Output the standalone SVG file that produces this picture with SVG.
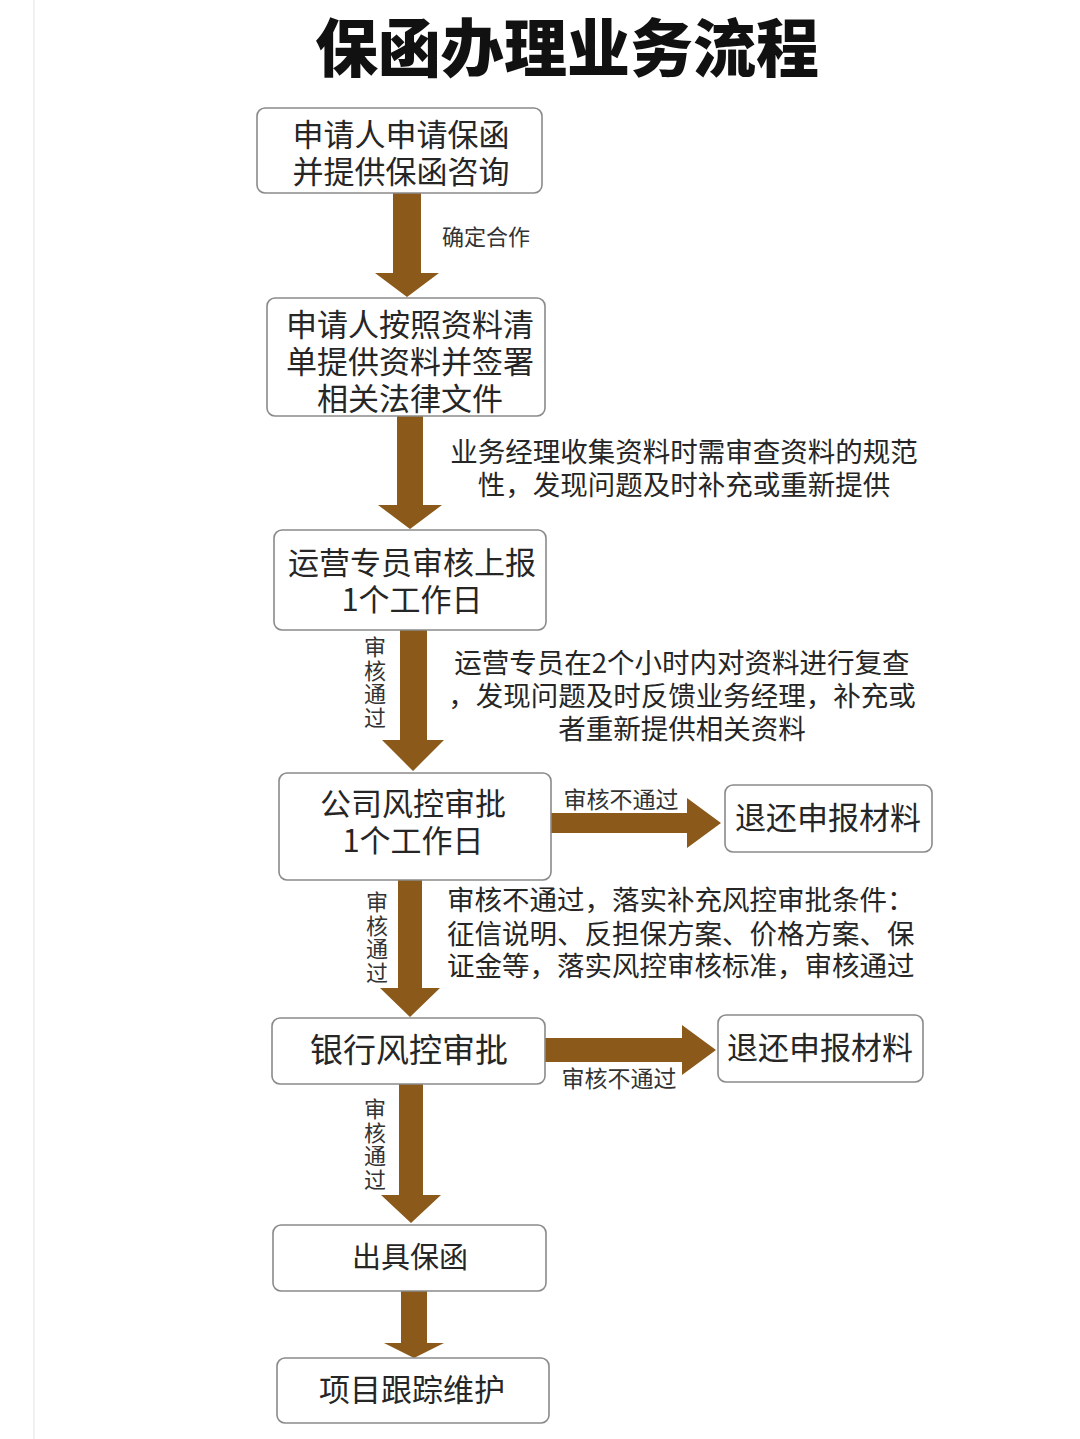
<svg xmlns="http://www.w3.org/2000/svg" width="1080" height="1439" viewBox="0 0 1080 1439">
<style>
.box{fill:#ffffff;stroke:#8a8a8a;stroke-width:1.6}
.nt{font-family:"Noto Sans CJK SC","Noto Sans",sans-serif;font-size:31px;fill:#262626;text-anchor:middle}
.lb{font-family:"Noto Sans CJK SC","Noto Sans",sans-serif;font-size:27.5px;fill:#262626}
.sm{font-family:"Noto Sans CJK SC","Noto Sans",sans-serif;font-size:22px;fill:#333333;text-anchor:middle}
.vt{font-family:"Noto Sans CJK SC","Noto Sans",sans-serif;font-size:22px;fill:#333333;text-anchor:middle;writing-mode:vertical-rl;letter-spacing:1.5px}
.arr{fill:#8b5a1b}
.title{font-family:"Noto Sans CJK SC","Noto Sans",sans-serif;font-size:63px;font-weight:900;fill:#111111;text-anchor:middle}
</style>
<rect x="0" y="0" width="1080" height="1439" fill="#ffffff"/>
<rect x="33" y="0" width="2" height="1439" fill="#f1f1f1"/>
<text class="title" x="567" y="71">保函办理业务流程</text>

<g id="connectors">
  <polygon class="arr" points="393,193 421,193 421,273 439,273 407,297 375,273 393,273"/>
  <text class="sm" x="486" y="245">确定合作</text>

  <polygon class="arr" points="397,416 423,416 423,505 442,505 410,529 378,505 397,505"/>
  <text class="lb" text-anchor="middle"><tspan x="684" y="462">业务经理收集资料时需审查资料的规范</tspan><tspan x="684" y="495">性，发现问题及时补充或重新提供</tspan></text>

  <polygon class="arr" points="400,630 427,630 427,740 444,740 413,771 382,740 400,740"/>
  <text class="vt" x="375" y="683">审核通过</text>
  <text class="lb" text-anchor="middle"><tspan x="682" y="673">运营专员在2个小时内对资料进行复查</tspan><tspan x="682" y="706">，发现问题及时反馈业务经理，补充或</tspan><tspan x="682" y="739">者重新提供相关资料</tspan></text>

  <polygon class="arr" points="551,813 687,813 687,798 721,823 687,848 687,833 551,833"/>
  <text class="sm" x="621" y="808" style="font-size:23px">审核不通过</text>

  <polygon class="arr" points="398,880 422,880 422,988 440,988 410,1017 380,988 398,988"/>
  <text class="vt" x="377" y="938">审核通过</text>
  <text class="lb"><tspan x="447" y="910">审核不通过，落实补充风控审批条件：</tspan><tspan x="447" y="944">征信说明、反担保方案、价格方案、保</tspan><tspan x="447" y="976">证金等，落实风控审核标准，审核通过</tspan></text>

  <polygon class="arr" points="545,1038 682,1038 682,1025 716,1050 682,1075 682,1062 545,1062"/>
  <text class="sm" x="619" y="1087" style="font-size:23px">审核不通过</text>

  <polygon class="arr" points="399,1084 423,1084 423,1195 441,1195 411,1223 381,1195 399,1195"/>
  <text class="vt" x="375" y="1145">审核通过</text>

  <polygon class="arr" points="401,1291 427,1291 427,1343 444,1343 414,1358 384,1343 401,1343"/>
</g>

<g id="node1">
  <rect class="box" x="257" y="108" width="285" height="85" rx="8"/>
  <text class="nt"><tspan x="401" y="146">申请人申请保函</tspan><tspan x="401" y="183">并提供保函咨询</tspan></text>
</g>
<g id="node2">
  <rect class="box" x="267" y="298" width="278" height="118" rx="8"/>
  <text class="nt"><tspan x="410" y="336">申请人按照资料清</tspan><tspan x="410" y="373">单提供资料并签署</tspan><tspan x="410" y="410">相关法律文件</tspan></text>
</g>
<g id="node3">
  <rect class="box" x="274" y="530" width="272" height="100" rx="8"/>
  <text class="nt"><tspan x="412" y="574">运营专员审核上报</tspan><tspan x="412" y="611">1个工作日</tspan></text>
</g>
<g id="node4">
  <rect class="box" x="279" y="773" width="272" height="107" rx="8"/>
  <text class="nt"><tspan x="413" y="815">公司风控审批</tspan><tspan x="413" y="852">1个工作日</tspan></text>
</g>
<g id="nodeReturn1">
  <rect class="box" x="725" y="785" width="207" height="67" rx="8"/>
  <text class="nt" x="828" y="829">退还申报材料</text>
</g>
<g id="node5">
  <rect class="box" x="272" y="1018" width="273" height="66" rx="8"/>
  <text class="nt" x="409" y="1062" style="font-size:33px">银行风控审批</text>
</g>
<g id="nodeReturn2">
  <rect class="box" x="718" y="1015" width="205" height="67" rx="8"/>
  <text class="nt" x="820" y="1059">退还申报材料</text>
</g>
<g id="node6">
  <rect class="box" x="273" y="1225" width="273" height="66" rx="8"/>
  <text class="nt" x="410" y="1268" style="font-size:29px">出具保函</text>
</g>
<g id="node7">
  <rect class="box" x="277" y="1358" width="272" height="65" rx="8"/>
  <text class="nt" x="412" y="1401">项目跟踪维护</text>
</g>
</svg>
